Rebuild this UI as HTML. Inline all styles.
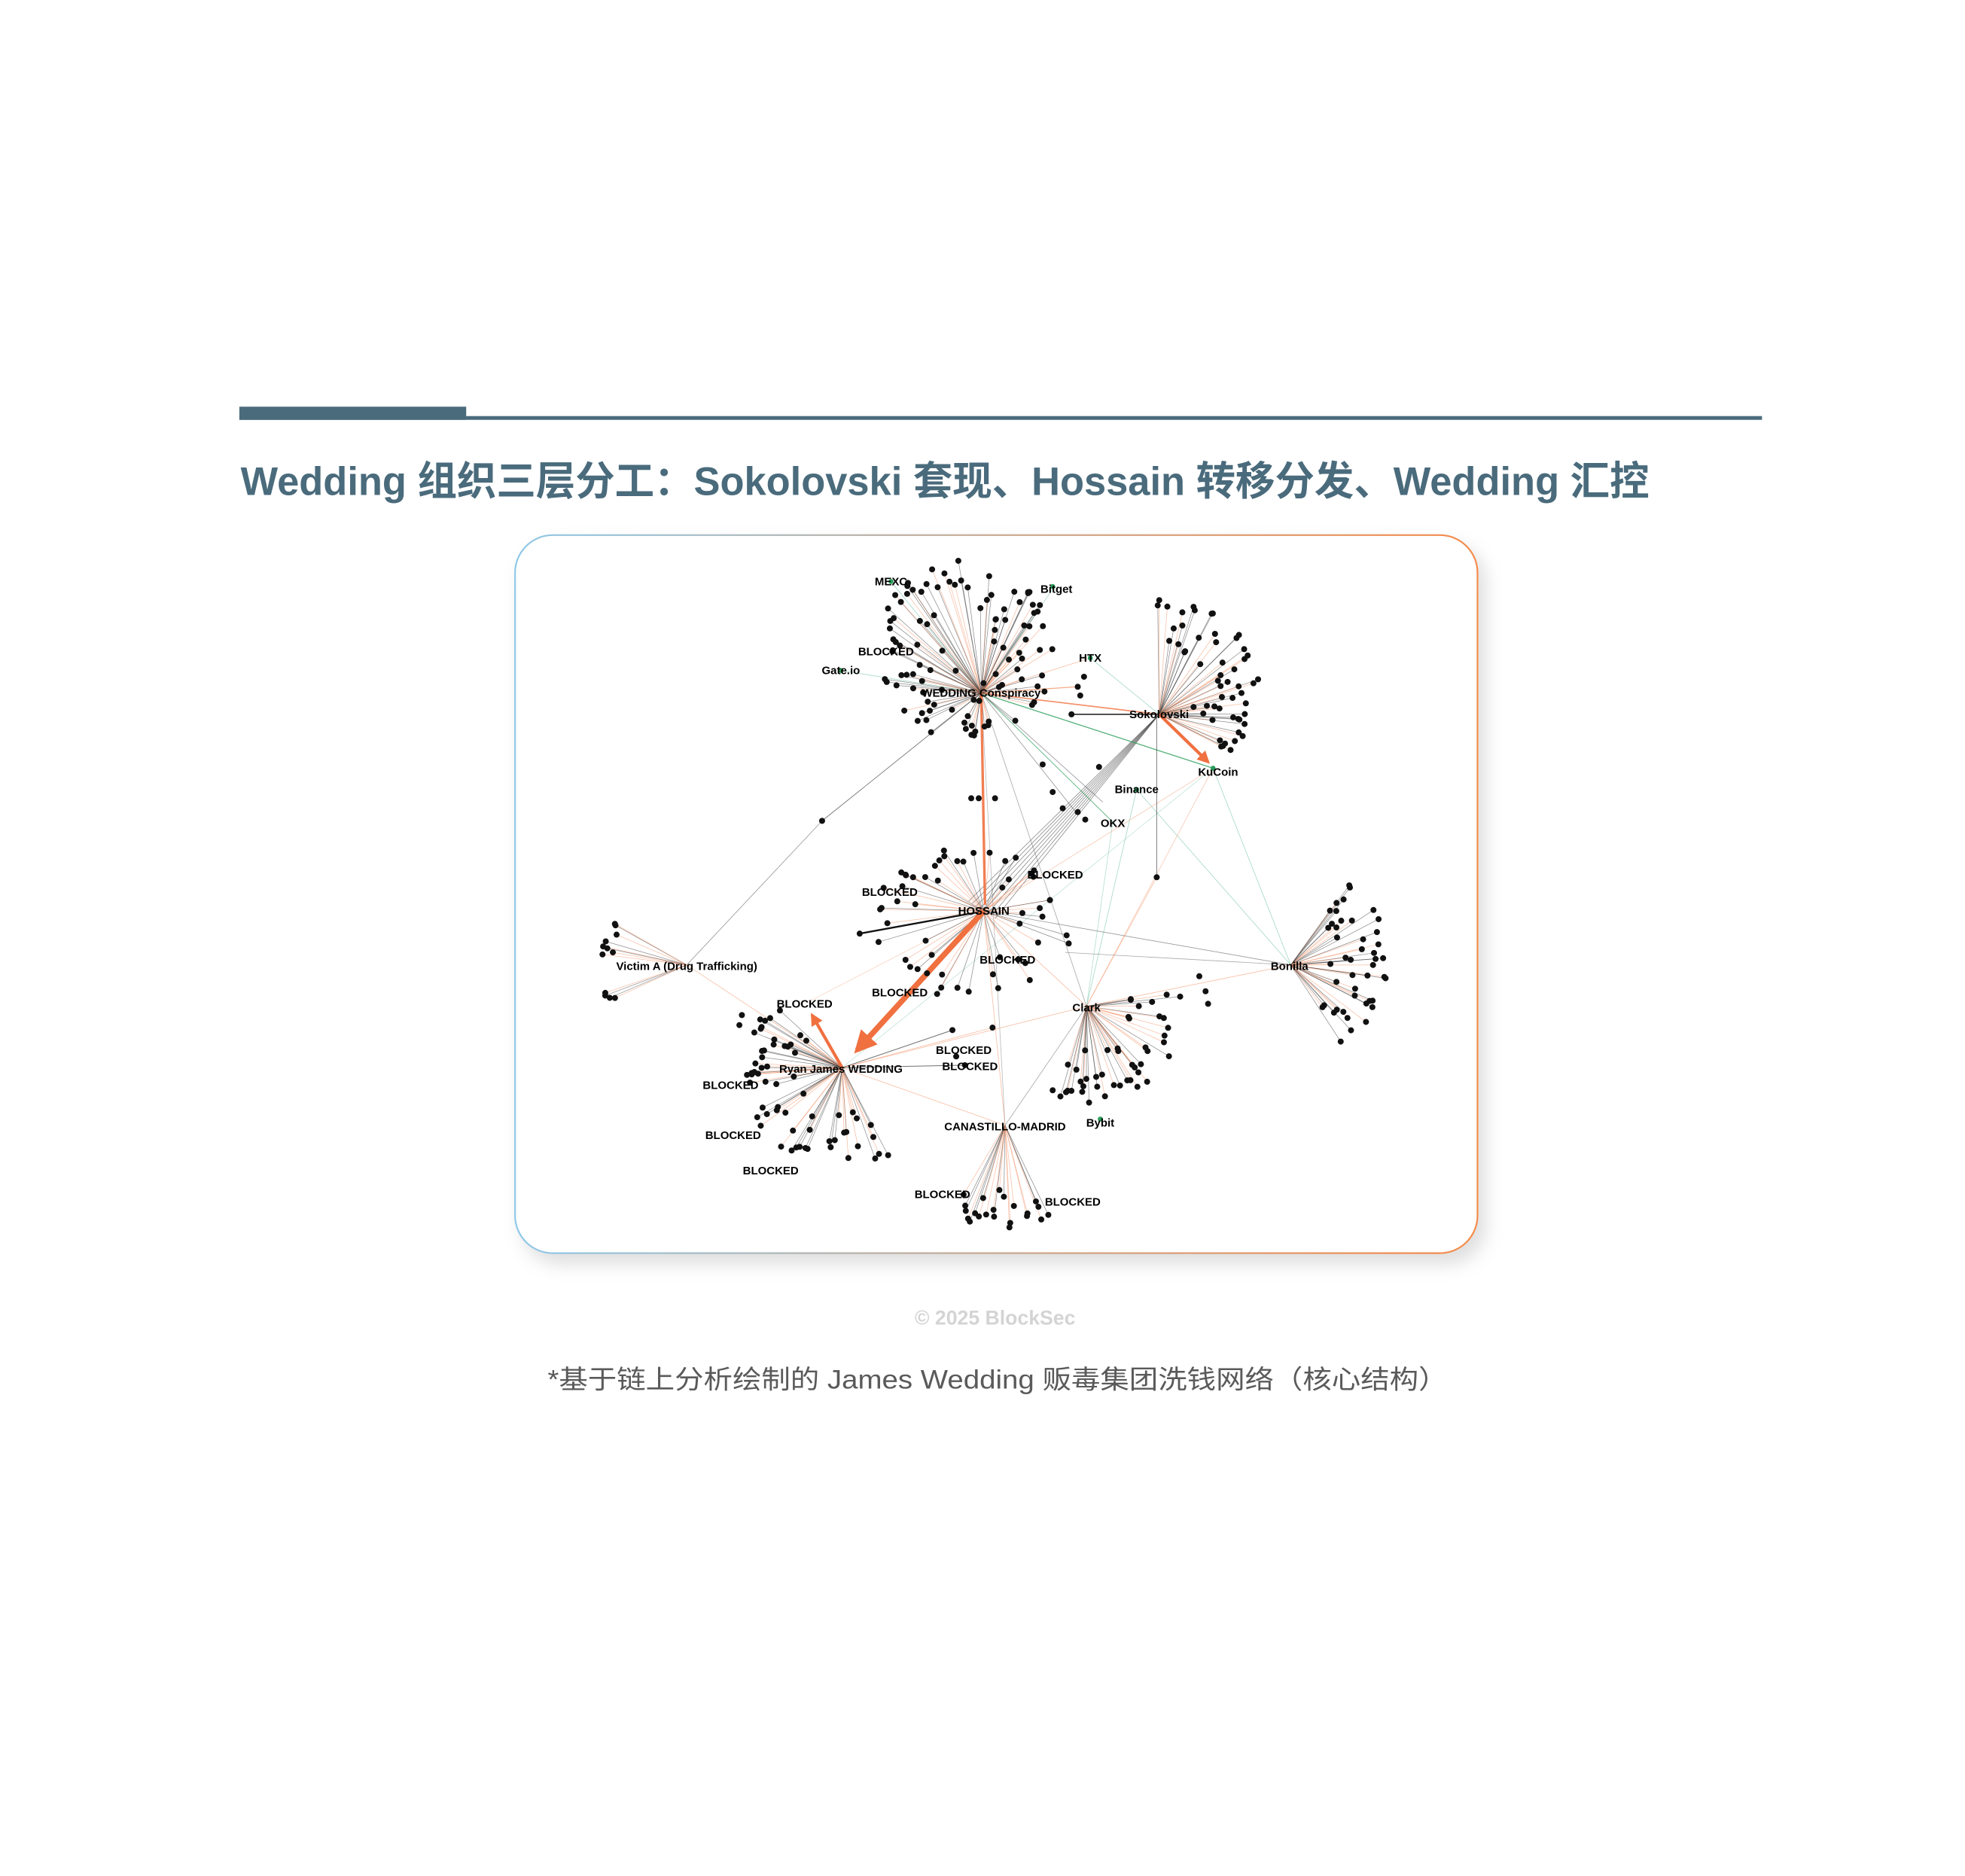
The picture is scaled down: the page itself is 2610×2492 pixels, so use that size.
<!DOCTYPE html>
<html><head><meta charset="utf-8">
<style>
html,body{margin:0;padding:0;background:#fff;}
svg{display:block;}
</style></head>
<body>
<svg id="s" xmlns="http://www.w3.org/2000/svg" width="2610" height="2492" viewBox="0 0 1568 1497">
<defs>
<linearGradient id="bg" x1="0" y1="0" x2="1" y2="0">
<stop offset="0" stop-color="#8ec8e8"/><stop offset="0.5" stop-color="#c8a890"/><stop offset="1" stop-color="#f58a4a"/>
</linearGradient>
<filter id="sh" x="-10%" y="-10%" width="125%" height="125%">
<feDropShadow dx="6" dy="8" stdDeviation="7" flood-color="#000" flood-opacity="0.13"/>
</filter>
<marker id="ar" viewBox="0 0 10 10" refX="8" refY="5" markerWidth="4" markerHeight="4" orient="auto" markerUnits="strokeWidth">
<path d="M0,0 L10,5 L0,10 z" fill="#f07040"/></marker>
</defs>
<rect x="0" y="0" width="1568" height="1497" fill="#fff"/>
<rect x="191" y="324.5" width="181" height="10.5" fill="#4a6b7c"/>
<rect x="191" y="332" width="1215" height="3" fill="#4a6b7c"/>
<text x="192" y="395" font-family="'Liberation Sans','Noto Sans CJK SC',sans-serif" font-weight="bold" font-size="32" fill="#4a6b7c" textLength="1124" lengthAdjust="spacingAndGlyphs">Wedding 组织三层分工：Sokolovski 套现、Hossain 转移分发、Wedding 汇控</text>
<rect x="411" y="427" width="768" height="573" rx="30" fill="#fff" stroke="url(#bg)" stroke-width="1.3" filter="url(#sh)"/>
<g id="edges"></g>
<g id="dots"></g>
<g id="labels" font-family="'Liberation Sans',Arial,sans-serif" font-weight="bold" font-size="9" fill="#000" text-anchor="middle">
<text x="711" y="467">MEXC</text>
<text x="843" y="473">Bitget</text>
<text x="707" y="523">BLOCKED</text>
<text x="671" y="538">Gate.io</text>
<text x="783" y="556">WEDDING Conspiracy</text>
<text x="870" y="528">HTX</text>
<text x="925" y="573">Sokolovski</text>
<text x="972" y="619">KuCoin</text>
<text x="907" y="633">Binance</text>
<text x="888" y="660">OKX</text>
<text x="842" y="701">BLOCKED</text>
<text x="710" y="715">BLOCKED</text>
<text x="785" y="730">HOSSAIN</text>
<text x="804" y="769">BLOCKED</text>
<text x="548" y="774">Victim A (Drug Trafficking)</text>
<text x="1029" y="774">Bonilla</text>
<text x="718" y="795">BLOCKED</text>
<text x="642" y="804">BLOCKED</text>
<text x="867" y="807">Clark</text>
<text x="769" y="841">BLOCKED</text>
<text x="774" y="854">BLOCKED</text>
<text x="671" y="856">Ryan James WEDDING</text>
<text x="583" y="869">BLOCKED</text>
<text x="585" y="909">BLOCKED</text>
<text x="615" y="937">BLOCKED</text>
<text x="802" y="902">CANASTILLO-MADRID</text>
<text x="878" y="899">Bybit</text>
<text x="752" y="956">BLOCKED</text>
<text x="856" y="962">BLOCKED</text>
</g>
<text x="794" y="1057" text-anchor="middle" font-family="'Liberation Sans',sans-serif" font-weight="bold" font-size="16" fill="#d4d4d4">© 2025 BlockSec</text>
<text x="796" y="1108" text-anchor="middle" font-family="'Liberation Sans','Noto Sans CJK SC',sans-serif" font-size="21" fill="#5a5a5a" textLength="718" lengthAdjust="spacingAndGlyphs">*基于链上分析绘制的 James Wedding 贩毒集团洗钱网络（核心结构）</text>
</svg>
<script>
(function(){
var NS="http://www.w3.org/2000/svg";
var E=document.getElementById("edges"),D=document.getElementById("dots");
var seed=7;function r(){seed=(seed*16807)%2147483647;return seed/2147483647;}
function line(x1,y1,x2,y2,c,w,op,mk){var l=document.createElementNS(NS,"line");l.setAttribute("x1",x1);l.setAttribute("y1",y1);l.setAttribute("x2",x2);l.setAttribute("y2",y2);l.setAttribute("stroke",c);l.setAttribute("stroke-width",w);l.setAttribute("stroke-opacity",op);if(mk)l.setAttribute("marker-end","url(#ar)");E.appendChild(l);}
function dot(x,y,rad,c){var d=document.createElementNS(NS,"circle");d.setAttribute("cx",x);d.setAttribute("cy",y);d.setAttribute("r",rad||2.4);d.setAttribute("fill",c||"#111");D.appendChild(d);}
function fan(hx,hy,cx,cy,a0,a1,r0,r1,n,sx){
  sx=sx||1;
  for(var i=0;i<n;i++){
    var a=(a0+(a1-a0)*r())*Math.PI/180, rr=r0+(r1-r0)*Math.sqrt(r());
    var x=cx+Math.cos(a)*rr*sx, y=cy+Math.sin(a)*rr;
    var o=r()<0.45;
    line(hx,hy,x,y,o?"#f4956a":"#333",0.45,o?0.6:0.55);
    dot(x,y);
  }
}
var W=[783,553],S=[925,570],H=[785,727],R=[672,852],C=[867,803],B=[1030,770],V=[548,770],K=[968,613],CM=[802,898];
function L(a,b,c,w,op){line(a[0],a[1],b[0],b[1],c,w,op);}
L(W,[656,655],"#333",0.5,0.7);L([656,655],V,"#555",0.5,0.6);
for(var i=0;i<8;i++){L(S,[H[0]+(i-4)*3,H[1]+(i-4)*2],"#444",0.5,0.6);}
L(W,K,"#2a9d5a",0.8,0.8);L(W,[888,656],"#2a9d5a",0.6,0.7);L(K,B,"#6cc0a0",0.5,0.6);
L([907,630],B,"#6cc0a0",0.5,0.6);L([907,630],C,"#6cc0a0",0.5,0.6);L([888,656],C,"#6cc0a0",0.5,0.5);
L(K,H,"#f4956a",0.5,0.5);L(K,C,"#f4956a",0.5,0.5);L(K,R,"#6cc0a0",0.4,0.5);
L(H,B,"#555",0.5,0.6);L([850,760],B,"#555",0.5,0.5);L(C,B,"#f4956a",0.5,0.6);
L([923,570],[923,700],"#444",0.6,0.7);L([923,700],C,"#f4956a",0.5,0.6);
L(W,C,"#555",0.5,0.5);L(W,CM,"#777",0.5,0.5);L(H,CM,"#f4956a",0.5,0.6);L(C,CM,"#555",0.5,0.5);
L(H,C,"#f4956a",0.5,0.6);L(R,C,"#f4956a",0.5,0.6);L(R,CM,"#f4956a",0.5,0.6);L(V,R,"#f4956a",0.5,0.6);
L(R,[760,822],"#333",0.6,0.7);L(R,[770,850],"#333",0.6,0.7);L(R,[792,820],"#f4956a",0.5,0.6);
L(W,[860,548],"#f4956a",0.8,0.8);L(W,S,"#f07040",1,0.8);L([855,570],S,"#222",1,0.9);
L(H,[686,745],"#111",1.4,1);L(W,[870,525],"#f4956a",0.5,0.6);L(S,[870,525],"#6cc0a0",0.5,0.6);
L(W,[840,470],"#6cc0a0",0.5,0.6);L(W,[711,464],"#6cc0a0",0.5,0.6);L(W,[671,535],"#6cc0a0",0.5,0.6);
L(W,[880,640],"#333",0.5,0.5);L(W,[860,650],"#333",0.5,0.5);L(H,[642,801],"#f4956a",0.4,0.5);
fan(783,553,770,518,0,360,15,72,105);
fan(925,570,935,548,-100,55,22,70,55);
fan(785,727,775,738,0,360,22,62,55,1.3);
fan(548,770,548,770,150,210,55,70,12);
fan(1030,770,1030,770,-55,60,30,80,45);
fan(867,803,867,803,-10,110,25,78,45);
fan(672,852,672,852,60,225,25,80,62);
fan(802,898,802,898,60,122,50,82,22);
[[775,637],[781,637],[794,637],[656,655],[832,610],[840,632],[848,645],[860,648],[866,654],[877,612],[923,700],[855,570],[860,548],[862,555],[865,540],[686,745],[760,822],[770,850],[792,820],[763,843],[957,779],[962,791],[964,801],[840,870],[592,810],[590,818]].forEach(function(p){dot(p[0],p[1]);});
[[711,464],[840,468],[671,535],[870,525],[968,613],[907,630],[878,893]].forEach(function(p){dot(p[0],p[1],2,"#2a9d5a");});
line(783,553,786,722,"#f07040",2,0.9);
line(785,727,684,838,"#f07040",4.5,1,true);
line(672,852,648,810,"#f07040",2.5,1,true);
line(925,570,964,608,"#f07040",2.5,1,true);
})();
</script>
</body></html>
